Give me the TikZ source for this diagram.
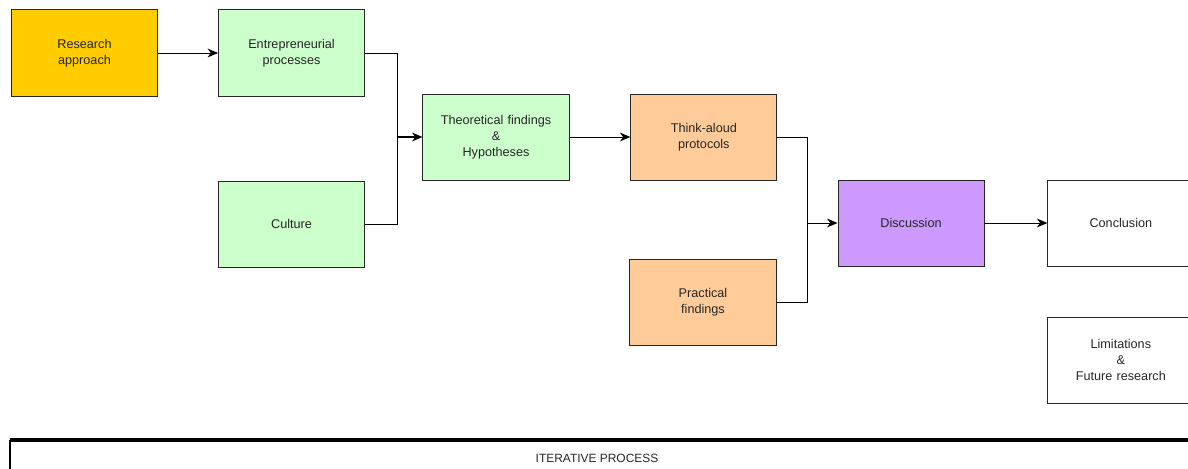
\documentclass[tikz,border=0pt]{standalone}
\usepackage{fontspec}
\setmainfont{Liberation Sans}
\usetikzlibrary{arrows.meta,positioning}
\definecolor{gold}{HTML}{FFCC00}
\definecolor{mint}{HTML}{CCFFCC}
\definecolor{peach}{HTML}{FFCC99}
\definecolor{lilac}{HTML}{CC99FF}

\begin{document}
\begin{tikzpicture}[x=0.025cm,y=-0.025cm,
 box/.style={draw=black!85,line width=0.7pt,minimum width=3.65cm,minimum height=2.15cm,
 text width=3.4cm,align=center,text=black!85,font=\fontsize{9}{11.2}\selectfont},
 arr/.style={-{Stealth[length=2.6mm,width=2.2mm,inset=0.8mm]},line width=0.7pt},
 link/.style={line width=0.7pt}]
\clip (0,0) rectangle (1188,468);
\node[box,fill=gold] (ra) at (84.5,53) {Research\\approach};
\node[box,fill=mint,right=1.5cm of ra] (ep) {Entrepreneurial\\processes};
\node[box,fill=mint,below=2.1cm of ep] (cu) {Culture};
\node[box,fill=mint] (th) at (496,137) {Theoretical findings\\\&\\Hypotheses};
\node[box,fill=peach,right=1.52cm of th] (ta) {Think-aloud\\protocols};
\node[box,fill=peach] (pf) at (703,302.5) {Practical\\findings};
\node[box,fill=lilac] (di) at (911,223) {Discussion};
\node[box,right=1.57cm of di] (co) {Conclusion};
\node[box,below=1.25cm of co] (li) {Limitations\\\&\\Future research};
\coordinate (j1) at (397,137);
\coordinate (j2) at (807,223);
\draw[arr] (ra)--(ep);
\draw[link] (ep.east) -| (j1); \draw[link] (cu.east) -| (j1);
\draw[arr,line width=1.1pt] (j1)--(th);
\draw[arr] (th)--(ta);
\draw[link] (ta.east) -| (j2); \draw[link] (pf.east) -| (j2);
\draw[arr] (j2)--(di);
\draw[arr] (di)--(co);
% iterative process bar
\coordinate (ip) at (10,440);
\draw[line width=2.2pt] (ip) -- (1190,440);
\draw[line width=1pt] (ip) -- (10,470);
\node[text=black!85,font=\fontsize{8.5}{10}\selectfont] (it) at (597,458) {ITERATIVE PROCESS};
\end{tikzpicture}
\end{document}
